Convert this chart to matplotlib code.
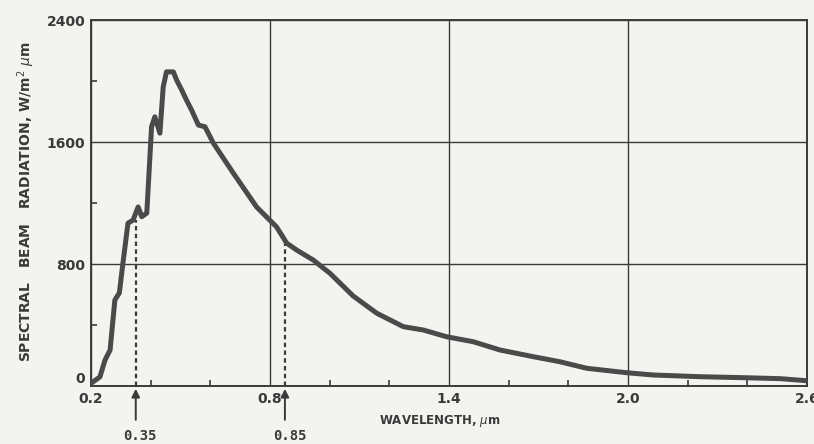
import matplotlib.pyplot as plt
from matplotlib.ticker import MultipleLocator

# curve (wavelength um, W/m2 um)
wavelength = [0.202, 0.23, 0.247, 0.264, 0.28, 0.295, 0.307, 0.324, 0.341, 0.358,
              0.37, 0.387, 0.403, 0.414, 0.431, 0.442, 0.453, 0.476, 0.487, 0.504,
              0.52, 0.537, 0.56, 0.582, 0.61, 0.677, 0.755, 0.822, 0.856, 0.889,
              0.945, 1.001, 1.079, 1.158, 1.247, 1.314, 1.392, 1.482, 1.571, 1.683,
              1.772, 1.862, 1.996, 2.086, 2.242, 2.398, 2.512, 2.596]
radiation = [20, 60, 170, 236, 564, 610, 805, 1068, 1088, 1174,
             1110, 1134, 1700, 1765, 1658, 1961, 2060, 2060, 2006, 1941,
             1875, 1810, 1711, 1700, 1593, 1396, 1174, 1043, 937, 892,
             826, 739, 590, 477, 389, 367, 323, 290, 236, 192,
             159, 116, 87, 72, 61, 54, 48, 35]

marks = [0.35, 0.85]
mark_heights = [1088, 950]
mark_labels = ["0.35", "0.85"]

x_ticks = [0.2, 0.8, 1.4, 2.0, 2.6]
x_tick_labels = ["0.2", "0.8", "1.4", "2.0", "2.6"]
y_ticks = [0, 800, 1600, 2400]

ink = "#3a3a3a"
paper = "#f3f3f0"

fig = plt.figure(figsize=(8.14, 4.44), dpi=100, facecolor=paper)
ax = fig.add_axes([91 / 814, 1 - 386 / 444, 716 / 814, 366 / 444], facecolor=paper)

ax.plot(wavelength, radiation, color="#4a4a4a", linewidth=3.6, solid_joinstyle="round",
        solid_capstyle="round", zorder=3)

for xm, ym, lab in zip(marks, mark_heights, mark_labels):
    ax.plot([xm, xm], [0, ym], color=ink, linewidth=1.6, linestyle=(0, (2, 1.5)), zorder=2)
    ax.annotate("", xy=(xm, 0), xycoords="data", xytext=(xm, -240),
                textcoords="data", annotation_clip=False,
                arrowprops=dict(arrowstyle="-|>", color=ink, lw=1.4, mutation_scale=12))
    ax.text(xm + 0.015, -330, lab, ha="center", va="center", fontsize=10,
            fontweight="bold", color=ink, family="DejaVu Sans Mono", clip_on=False)

ax.set_xlim(0.2, 2.6)
ax.set_ylim(0, 2400)
ax.set_xticks(x_ticks)
ax.set_xticklabels(x_tick_labels)
ax.set_yticks(y_ticks)
ax.xaxis.set_minor_locator(MultipleLocator(0.2))
ax.yaxis.set_minor_locator(MultipleLocator(400))
ax.tick_params(axis="both", which="major", length=0, pad=4, labelsize=10, colors=ink)
ax.tick_params(axis="both", which="minor", direction="in", length=4, width=1.2, color=ink)
for lab in ax.get_xticklabels() + ax.get_yticklabels():
    lab.set_fontweight("bold")
# the "0" sits a little above the baseline so it clears "0.2"
ax.yaxis.get_major_ticks()[0].label1.set_verticalalignment("bottom")

ax.grid(True, which="major", color=ink, linewidth=1.0)
for side in ax.spines.values():
    side.set_color(ink)
    side.set_linewidth(1.4)

fig.text(440 / 814, 1 - 421 / 444, "WAVELENGTH, $\\mu$m", ha="center", va="center",
         fontsize=8.5, fontweight="bold", color=ink)
fig.text(26 / 814, 1 - 202 / 444, "SPECTRAL   BEAM   RADIATION, W/m$^2$ $\\mu$m",
         rotation=90, ha="center", va="center", fontsize=10, fontweight="bold", color=ink)

fig.savefig("out.png", dpi=100, facecolor=paper)
